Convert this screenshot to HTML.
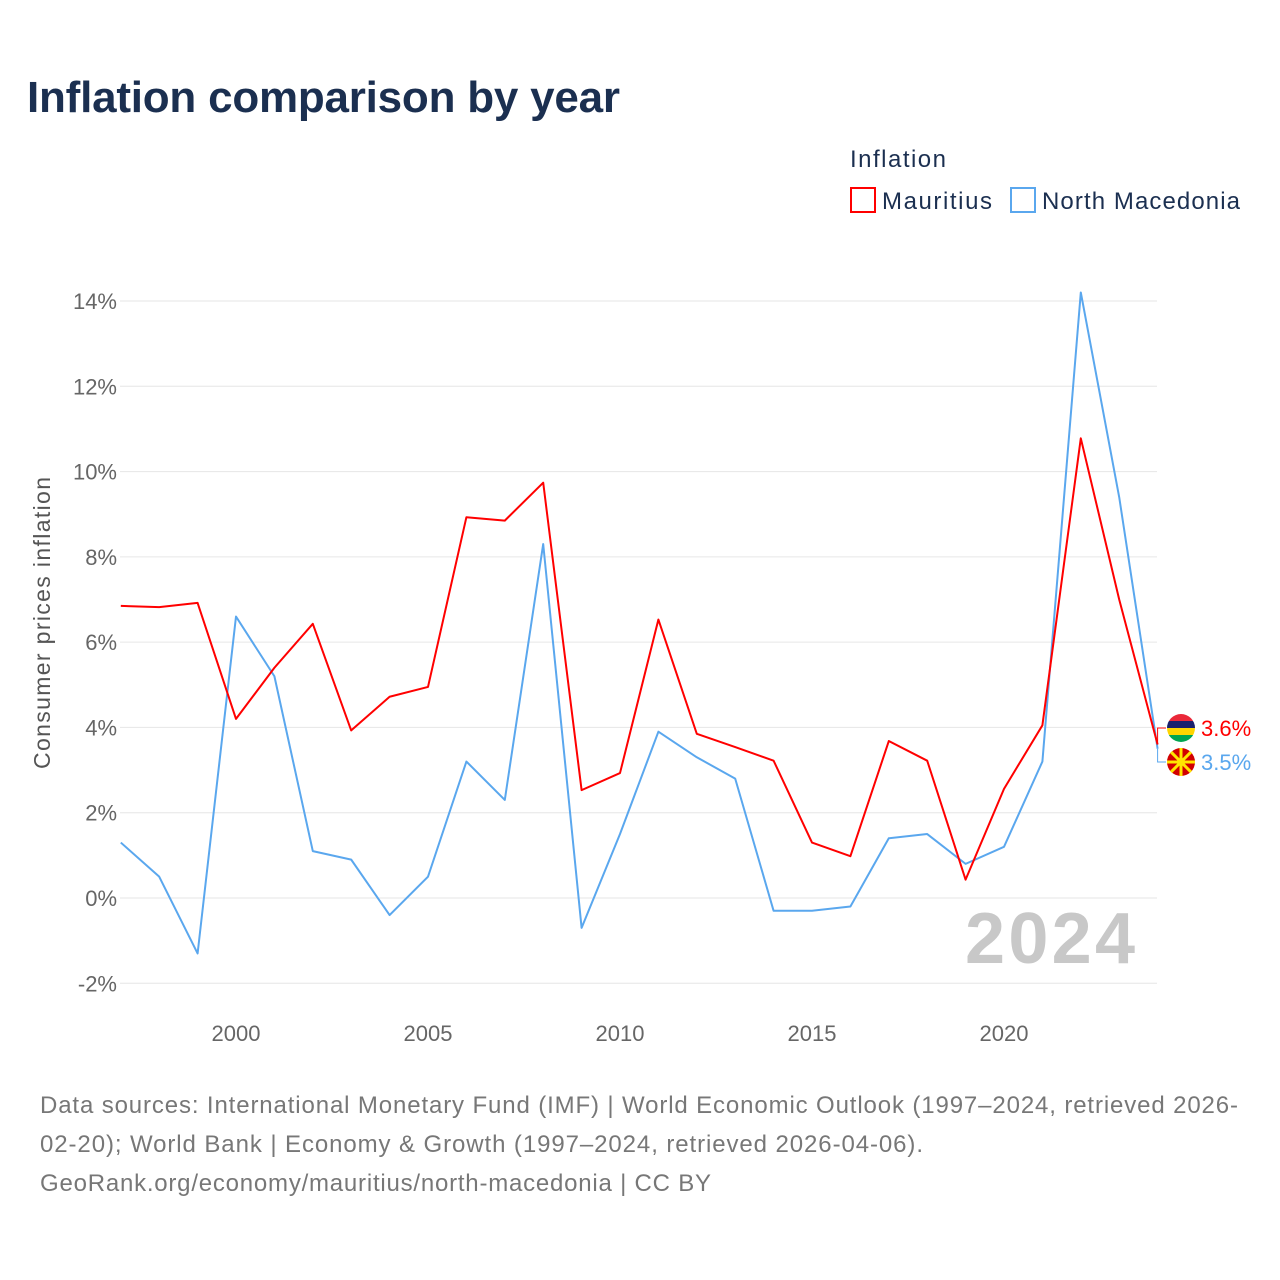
<!DOCTYPE html>
<html><head><meta charset="utf-8">
<style>
body{margin:0;background:#fff;font-family:"Liberation Sans",sans-serif;}
#wrap{position:relative;width:1280px;height:1280px;overflow:hidden;}
</style></head>
<body>
<div id="wrap">
<svg id="chart" width="1280" height="1280" xmlns="http://www.w3.org/2000/svg">
<defs><clipPath id="fc"><circle cx="1181" cy="728" r="14"/></clipPath></defs>
<text x="27" y="112" font-size="44" font-weight="bold" fill="#1b2f50" textLength="593">Inflation comparison by year</text>
<text x="850" y="167" font-size="24" fill="#1b2f50" textLength="96">Inflation</text>
<g><rect x="851" y="188" width="24" height="24" fill="none" stroke="#ff0000" stroke-width="2"/><text x="882" y="209" font-size="24" fill="#1b2f50" textLength="110">Mauritius</text></g>
<g><rect x="1011" y="188" width="24" height="24" fill="none" stroke="#5aa7ee" stroke-width="2"/><text x="1042" y="209" font-size="24" fill="#1b2f50" textLength="198">North Macedonia</text></g>
<text transform="translate(50,623) rotate(-90)" text-anchor="middle" font-size="23" fill="#555" textLength="292">Consumer prices inflation</text>
<g id="grid"></g><g id="xt"></g>
<text x="965" y="963" font-size="72" font-weight="bold" fill="#c8c8c8" textLength="170">2024</text>
<g id="series"></g>
<text x="40" y="1113" font-size="24" fill="#777" textLength="1198">Data sources: International Monetary Fund (IMF) | World Economic Outlook (1997–2024, retrieved 2026-</text>
<text x="40" y="1152" font-size="24" fill="#777" textLength="883">02-20); World Bank | Economy &amp; Growth (1997–2024, retrieved 2026-04-06).</text>
<text x="40" y="1191" font-size="24" fill="#777" textLength="671">GeoRank.org/economy/mauritius/north-macedonia | CC BY</text>
</svg>
</div>
<script>
const years=[1997,1998,1999,2000,2001,2002,2003,2004,2005,2006,2007,2008,2009,2010,2011,2012,2013,2014,2015,2016,2017,2018,2019,2020,2021,2022,2023,2024];
const mauritius=[6.85,6.82,6.92,4.2,5.4,6.43,3.93,4.72,4.95,8.93,8.85,9.74,2.53,2.93,6.53,3.85,3.54,3.22,1.3,0.98,3.68,3.22,0.43,2.56,4.05,10.78,7.0,3.6];
const macedonia=[1.3,0.5,-1.3,6.6,5.2,1.1,0.9,-0.4,0.5,3.2,2.3,8.3,-0.7,1.5,3.9,3.3,2.8,-0.3,-0.3,-0.2,1.4,1.5,0.8,1.2,3.2,14.2,9.4,3.5];
const yTicks=[-2,0,2,4,6,8,10,12,14];
const xTicks=[2000,2005,2010,2015,2020];
const NS="http://www.w3.org/2000/svg";
const X=y=>236+(y-2000)*38.4;
const Y=v=>898-v*(597/14);
function mk(t,a,p){const e=document.createElementNS(NS,t);for(const k in a)e.setAttribute(k,a[k]);p.appendChild(e);return e;}
const grid=document.getElementById('grid');
yTicks.forEach(v=>{
 const l=mk('line',{x1:120,x2:1157,y1:Y(v),y2:Y(v),stroke:'#e6e6e6','stroke-width':1},grid);
 
 
 const t=mk('text',{x:117,y:Y(v)+8,'text-anchor':'end','font-size':22,fill:'#666'},grid);
 t.textContent=v+'%';
 
 
});
const xt=document.getElementById('xt');
xTicks.forEach(v=>{
 const t=mk('text',{x:X(v),y:1041,'text-anchor':'middle','font-size':22,fill:'#666'},xt);
 t.textContent=v;
 
 
});
const sg=document.getElementById('series');
function line(vals,col,name){
 const p=mk('polyline',{points:vals.map((v,i)=>X(years[i])+','+Y(v)).join(' '),fill:'none',stroke:col,'stroke-width':2,'stroke-linejoin':'round'},sg);
 
 
}
line(macedonia,'#5aa7ee','line-north-macedonia');
line(mauritius,'#ff0000','line-mauritius');
const last=years.length-1;
function endLabel(v,ly,col,name){
 const g=mk('g',{},sg);
 
 
 mk('polyline',{points:`${X(years[last])},${Y(v)} ${X(years[last])},${ly} 1166,${ly}`,fill:'none',stroke:col,'stroke-width':1},g);
 const t=mk('text',{x:1201,y:ly+8,'font-size':22,fill:col},g);
 t.textContent=v.toFixed(1)+'%';
 return g;
}
const g1=endLabel(mauritius[last],728,'#ff0000','end-label-mauritius');
const fg=mk('g',{'clip-path':'url(#fc)'},g1);
mk('rect',{x:1167,y:714,width:28,height:7,fill:'#ea2839'},fg);
mk('rect',{x:1167,y:721,width:28,height:7,fill:'#1a206d'},fg);
mk('rect',{x:1167,y:728,width:28,height:7,fill:'#ffd500'},fg);
mk('rect',{x:1167,y:735,width:28,height:7,fill:'#00a551'},fg);
const g2=endLabel(macedonia[last],762,'#5aa7ee','end-label-north-macedonia');
mk('circle',{cx:1181,cy:762,r:14,fill:'#d20000'},g2);
for(let a=0;a<8;a++){const r=a*Math.PI/4;mk('line',{x1:1181,y1:762,x2:1181+14*Math.cos(r),y2:762+14*Math.sin(r),stroke:'#ffe600','stroke-width':3},g2);}
mk('circle',{cx:1181,cy:762,r:4,fill:'#ffe600'},g2);
</script>
</body></html>
